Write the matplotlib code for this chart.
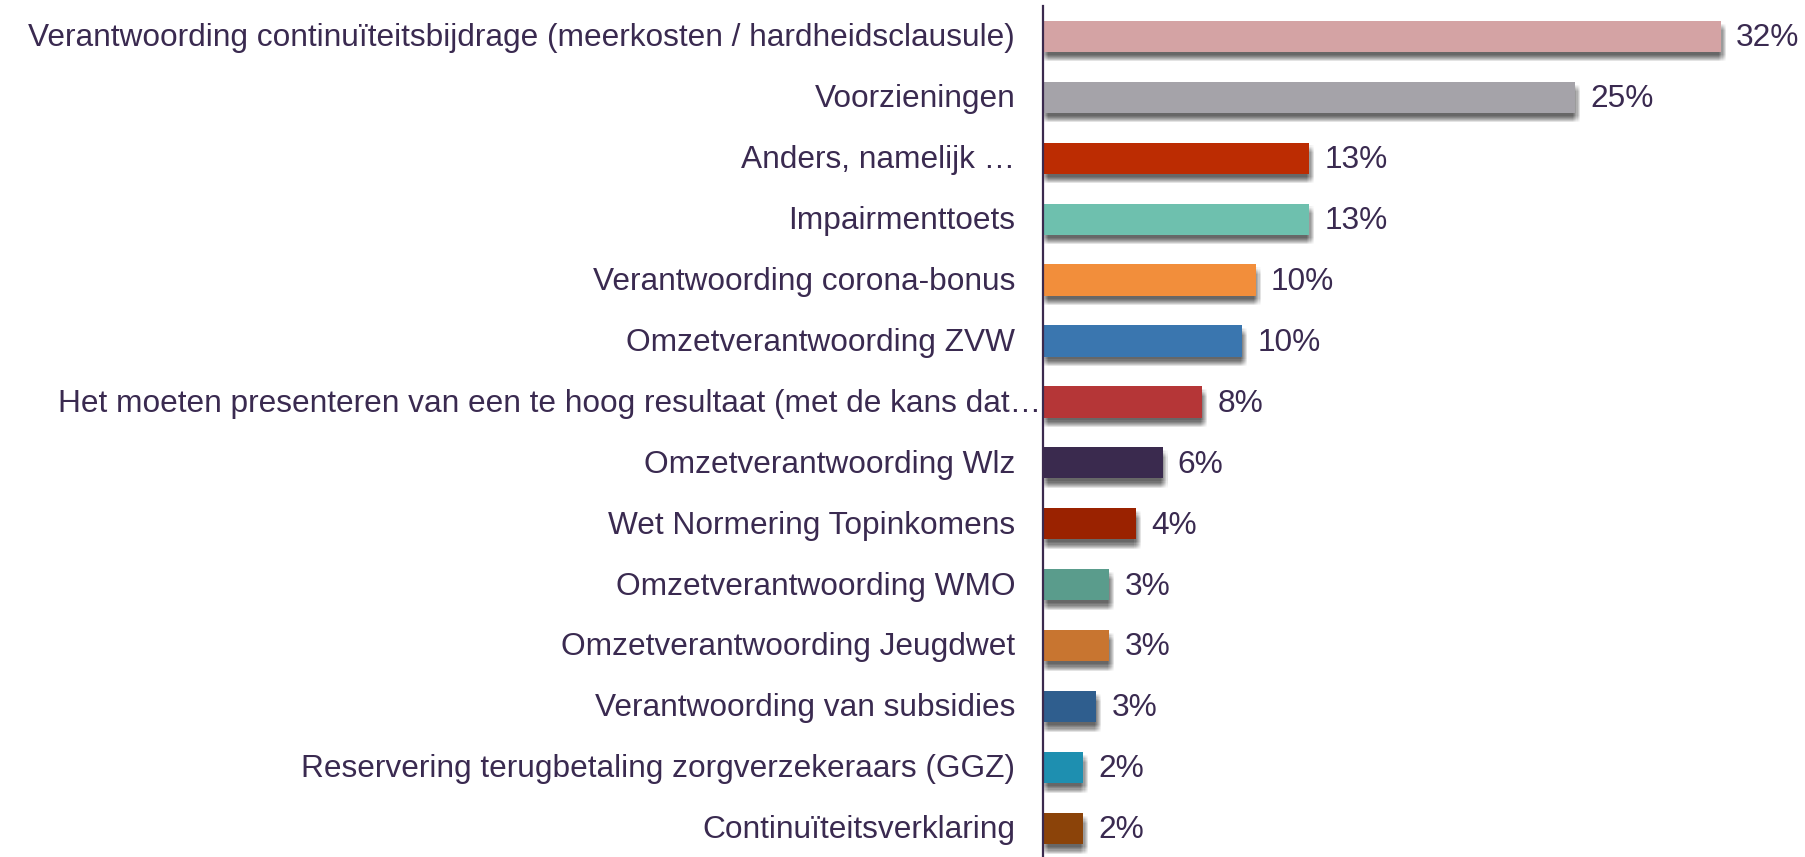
import matplotlib
matplotlib.use("Agg")
import matplotlib.pyplot as plt
import matplotlib.patheffects as pe
from matplotlib.transforms import offset_copy

categories = [
    "Verantwoording continuïteitsbijdrage (meerkosten / hardheidsclausule)",
    "Voorzieningen",
    "Anders, namelijk …",
    "Impairmenttoets",
    "Verantwoording corona-bonus",
    "Omzetverantwoording ZVW",
    "Het moeten presenteren van een te hoog resultaat (met de kans dat…",
    "Omzetverantwoording Wlz",
    "Wet Normering Topinkomens",
    "Omzetverantwoording WMO",
    "Omzetverantwoording Jeugdwet",
    "Verantwoording van subsidies",
    "Reservering terugbetaling zorgverzekeraars (GGZ)",
    "Continuïteitsverklaring",
]
values = [32.48, 25.48, 12.74, 12.74, 10.19, 9.55, 7.64, 5.73, 4.46, 3.18, 3.18, 2.55, 1.91, 1.91]
colors = ["#D4A3A4", "#A5A3A9", "#BC2C02", "#6EC0AE", "#F28E3B", "#3A76AF", "#B53637",
          "#3A2A4E", "#9A2200", "#5A9C8C", "#C87530", "#2F5E8E", "#1E8FB0", "#8B4309"]

TEXT = "#3A2A50"
W, H = 1805, 857
fig = plt.figure(figsize=(W / 100, H / 100), dpi=100)
ax = fig.add_axes([1043 / W, -2.2 / H, (W - 1043) / W, (857 - 5.7 + 2.2) / H])

y = list(range(len(categories)))
bars = ax.barh(y, values, height=0.51, color=colors, zorder=3)

effects = []
steps = (-2.4, -1.6, -0.8, 0, 0.8, 1.6, 2.4)
for dx in steps:
    for dy in steps:
        effects.append(pe.SimplePatchShadow(offset=(1.2 + dx, -4.5 + dy),
                                            shadow_rgbFace="black", alpha=0.017))
effects.append(pe.Normal())
for b in bars:
    b.set_path_effects(effects)

ax.set_ylim(len(categories) - 0.5, -0.5)
ax.set_xlim(0, (W - 1043) / 20.87)

for s in ("top", "right", "bottom"):
    ax.spines[s].set_visible(False)
ax.spines["left"].set_color("#3B2A4E")
ax.spines["left"].set_linewidth(1.6)
ax.spines["left"].set_zorder(4)
ax.set_xticks([])
ax.set_yticks([])

fs = 22.8
font = "Liberation Sans"
for i, (cat, v) in enumerate(zip(categories, values)):
    off = -1 if cat.endswith("dat…") else -20
    tr = offset_copy(ax.get_yaxis_transform(), fig=fig, x=off, y=-1.2, units="points")
    ax.text(0, i, cat, transform=tr, ha="right", va="center", fontsize=fs,
            color=TEXT, family=font)
    tr2 = offset_copy(ax.transData, fig=fig, x=11, y=-1.2, units="points")
    ax.text(v, i, f"{v:.0f}%", transform=tr2, ha="left", va="center",
            fontsize=fs, color=TEXT, family=font)

fig.savefig("out.png", dpi=100)
